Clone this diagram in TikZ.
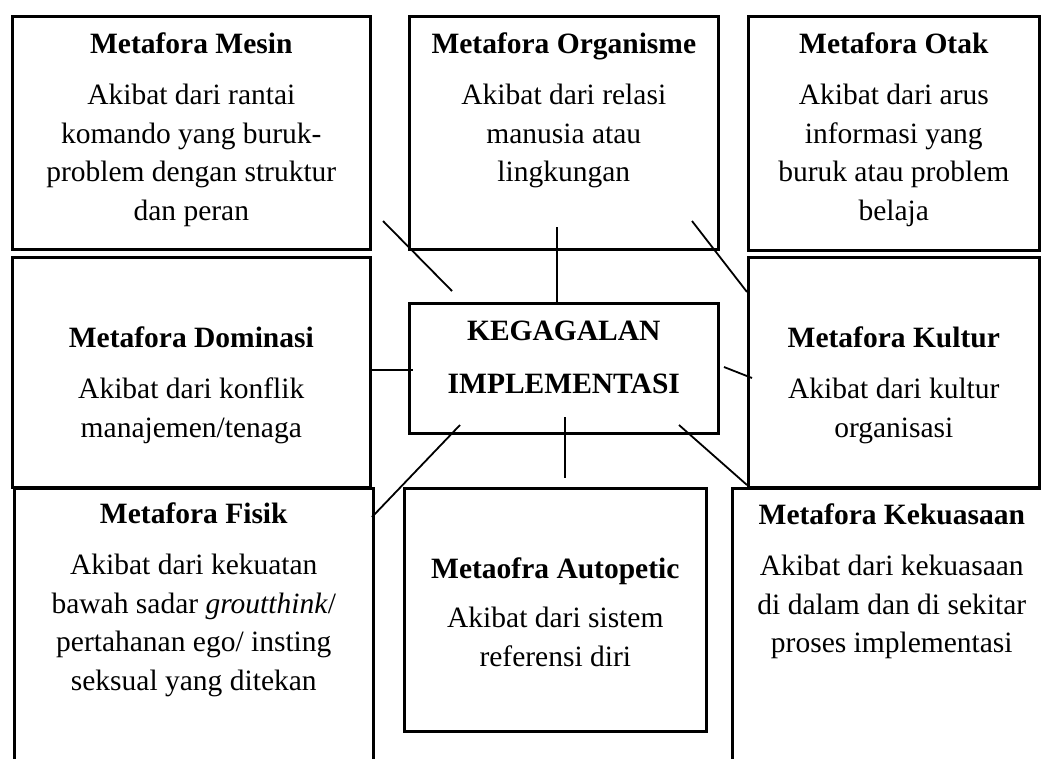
\documentclass[tikz,border=0pt]{standalone}
\usepackage{fontspec}
\setmainfont{Liberation Serif}
\usetikzlibrary{calc}

\begin{document}
\begin{tikzpicture}[x=1pt, y=-1pt,
		kotak/.style={draw, line width=2.6pt, inner sep=0pt, anchor=north west},
		isi/.style={anchor=north, align=center, inner sep=0pt, font=\fontsize{29.5}{38.5}\selectfont},
		garis/.style={line width=1.8pt}]
		
		% --- 1. bingkai gambar ---
		\path[use as bounding box, clip] (0,0) rectangle (1041,758);
		
		% --- 2. kotak-kotak metafora ---
		\node[kotak, minimum width=358pt, minimum height=233pt] (mesin) at (11,15) {};
		\node[kotak, minimum width=309pt, minimum height=233pt] (organisme) at (408,15) {};
		\node[kotak, minimum width=291pt, minimum height=234pt] (otak) at (747,15) {};
		\node[kotak, minimum width=358pt, minimum height=230pt] (dominasi) at (11,256) {};
		\node[kotak, minimum width=291pt, minimum height=230pt] (kultur) at (747,256) {};
		\node[kotak, minimum width=309pt, minimum height=130pt] (pusat) at (408,302) {};
		\node[kotak, minimum width=359pt, minimum height=320pt] (fisik) at (13,487) {};
		\node[kotak, minimum width=302pt, minimum height=243pt] (autopetic) at (403,487) {};
		\node[kotak, minimum width=319pt, minimum height=320pt] (kekuasaan) at (731,487) {};
		
		% --- 3. isi teks ---
		\node[isi] (mesinT) at ($(mesin.north)+(0,17)$) {\rule{0pt}{21pt}\textbf{Metafora Mesin}\\[13pt]
			Akibat dari rantai\\ komando yang buruk-\\ problem dengan struktur\\ dan peran};
		\node[isi] (organismeT) at ($(organisme.north)+(0,17)$) {\rule{0pt}{21pt}\textbf{Metafora Organisme}\\[13pt]
			Akibat dari relasi\\ manusia atau\\ lingkungan};
		\node[isi] (otakT) at ($(otak.north)+(0,17)$) {\rule{0pt}{21pt}\textbf{Metafora Otak}\\[13pt]
			Akibat dari arus\\ informasi yang\\ buruk atau problem\\ belaja};
		\node[isi] (dominasiT) at ($(dominasi.north)+(0,70)$) {\rule{0pt}{21pt}\textbf{Metafora Dominasi}\\[13pt]
			Akibat dari konflik\\ manajemen/tenaga};
		\node[isi] (kulturT) at ($(kultur.north)+(0,70)$) {\rule{0pt}{21pt}\textbf{Metafora Kultur}\\[13pt]
			Akibat dari kultur\\ organisasi};
		\node[isi] (pusatT) at ($(pusat.north)+(0,17)$) {\rule{0pt}{21pt}\textbf{KEGAGALAN}\\[14.5pt]
			\textbf{IMPLEMENTASI}};
		\node[isi] (fisikT) at ($(fisik.north)+(0,15)$) {\rule{0pt}{21pt}\textbf{Metafora Fisik}\\[13pt]
			Akibat dari kekuatan\\ bawah sadar \textit{groutthink}/\\ pertahanan ego/ insting\\ seksual yang ditekan};
		\node[isi] (autopeticT) at ($(autopetic.north)+(0,70)$) {\rule{0pt}{21pt}\textbf{Metaofra Autopetic}\\[11pt]
			Akibat dari sistem\\ referensi diri};
		\node[isi] (kekuasaanT) at ($(kekuasaan.north)+(0,16)$) {\rule{0pt}{21pt}\textbf{Metafora Kekuasaan}\\[13pt]
			Akibat dari kekuasaan\\ di dalam dan di sekitar\\ proses implementasi};
		
		% --- 4. garis penghubung ---
		\coordinate (mesin-a) at (383,221);     \coordinate (mesin-b) at (452,291);
		\coordinate (organisme-a) at (557,227); \coordinate (organisme-b) at (557,302);
		\coordinate (otak-a) at (692,221);      \coordinate (otak-b) at (747,292);
		\coordinate (dominasi-a) at (372,370);  \coordinate (dominasi-b) at (413,370);
		\coordinate (kultur-a) at (724,367);    \coordinate (kultur-b) at (752,378);
		\coordinate (fisik-a) at (460,425);     \coordinate (fisik-b) at (372,517);
		\coordinate (autopetic-a) at (565,417); \coordinate (autopetic-b) at (565,478);
		\coordinate (kekuasaan-a) at (679,425); \coordinate (kekuasaan-b) at (747,485);
		
		\foreach \n in {mesin,organisme,otak,dominasi,kultur,fisik,autopetic,kekuasaan}
			\draw[garis] (\n-a) -- (\n-b);
		
	\end{tikzpicture}
\end{document}
